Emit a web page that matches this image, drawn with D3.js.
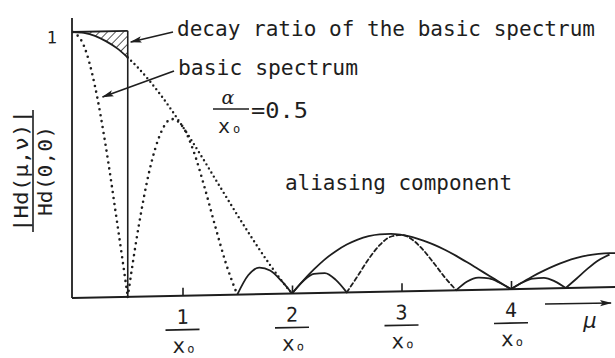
<!DOCTYPE html>
<html>
<head>
<meta charset="utf-8">
<script src="https://cdn.jsdelivr.net/npm/d3@7"></script>
<style>
  html, body { margin: 0; padding: 0; background: #fff; }
  svg { display: block; }
</style>
</head>
<body>
<script>
// Spatial frequency (in units of 1/x0)
const mu = [0.0, 0.1, 0.2, 0.3, 0.4, 0.5, 0.6, 0.7, 0.8, 0.9,
            1.0, 1.1, 1.2, 1.3, 1.4, 1.5, 1.6, 1.7, 1.8, 1.9,
            2.0, 2.1, 2.2, 2.3, 2.4, 2.5, 2.6, 2.7, 2.8, 2.9,
            3.0, 3.1, 3.2, 3.3, 3.4, 3.5, 3.6, 3.7, 3.8, 3.9,
            4.0, 4.1, 4.2, 4.3, 4.4, 4.5, 4.6, 4.7, 4.8, 4.9, 5.0];

// |Hd(mu,nu)| / Hd(0,0) of the aperture response (envelope)
const envelope = [1.000, 0.996, 0.984, 0.963, 0.936, 0.900, 0.858, 0.810, 0.757, 0.699,
                  0.637, 0.572, 0.505, 0.436, 0.368, 0.300, 0.234, 0.170, 0.109, 0.052,
                  0.000, 0.047, 0.089, 0.126, 0.156, 0.180, 0.198, 0.210, 0.216, 0.217,
                  0.212, 0.203, 0.189, 0.172, 0.152, 0.129, 0.104, 0.078, 0.052, 0.026,
                  0.000, 0.024, 0.047, 0.067, 0.085, 0.100, 0.112, 0.121, 0.126, 0.128, 0.127];

// Response including the aliasing component
const aliased = [1.000, 0.947, 0.796, 0.566, 0.289, 0.000, 0.265, 0.476, 0.612, 0.665,
                 0.637, 0.544, 0.408, 0.257, 0.114, 0.000, 0.072, 0.100, 0.088, 0.050,
                 0.000, 0.045, 0.072, 0.074, 0.048, 0.000, 0.061, 0.124, 0.175, 0.206,
                 0.212, 0.193, 0.153, 0.101, 0.047, 0.000, 0.032, 0.046, 0.042, 0.024,
                 0.000, 0.023, 0.038, 0.040, 0.026, 0.000, 0.035, 0.071, 0.102, 0.122, 0.127];

// Line style of each stretch of the two curves: [from, to, style]
const envelopeStyles = [[0, 0.5, "solid"], [0.5, 2, "dot"], [2, 4, "solid"], [4, 5, "solid"]];
const aliasedStyles  = [[0, 0.5, "dotBig"], [0.5, 1.5, "dotBig"], [1.5, 2, "solid"], [2, 2.5, "solid"],
                        [2.5, 3.5, "dash"], [3.5, 4, "solid"], [4, 4.5, "solid"], [4.5, 4.9, "solid"]];

const xTicks = [1, 2, 3, 4];
const xTickNumerators = ["1", "2", "3", "4"];
const yTicks = [1];
const yTickLabels = ["1"];
const nyquist = 0.5;

const W = 615, H = 358;
const ink = "#1e1e1e";
const mono = "'DejaVu Sans Mono', 'Liberation Mono', monospace";

const svg = d3.select("body").append("svg")
  .attr("width", W).attr("height", H)
  .attr("viewBox", `0 0 ${W} ${H}`);

const x = d3.scaleLinear().domain([0, 5]).range([73, 620.5]);
const y = d3.scaleLinear().domain([0, 1]).range([298, 32]);

// plot area is drawn with a slight tilt of the frequency axis
const ox = 72;
const plot = svg.append("g")
  .attr("transform", `translate(${ox},0) skewY(-1.16) translate(${-ox},0)`);

const defs = svg.append("defs");
defs.append("pattern")
  .attr("id", "hatch")
  .attr("patternUnits", "userSpaceOnUse")
  .attr("width", 5.8).attr("height", 5.8)
  .attr("patternTransform", "rotate(45)")
  .append("line")
  .attr("x1", 0).attr("y1", 0).attr("x2", 0).attr("y2", 5.8)
  .attr("stroke", ink).attr("stroke-width", 1.5);

defs.append("marker")
  .attr("id", "head")
  .attr("viewBox", "0 0 12 8")
  .attr("refX", 11).attr("refY", 4)
  .attr("markerWidth", 12).attr("markerHeight", 8)
  .attr("markerUnits", "userSpaceOnUse")
  .attr("orient", "auto")
  .append("path")
  .attr("d", "M0,0.8 L12,4 L0,7.2 L2.5,4 Z")
  .attr("fill", ink);

const pts = (vals) => mu.map((m, i) => ({ m, v: vals[i] }));
const envPts = pts(envelope);
const aliPts = pts(aliased);

// hatched loss region between the ideal level 1 and the envelope up to nyquist
const area = d3.area()
  .x(d => x(d.m))
  .y0(y(1))
  .y1(d => y(d.v))
  .curve(d3.curveMonotoneX);
plot.append("path")
  .datum(envPts.filter(d => d.m <= nyquist + 1e-9))
  .attr("d", area)
  .attr("fill", "url(#hatch)")
  .attr("stroke", "none");

// axes
const xAxis = d3.axisBottom(x)
  .tickValues(xTicks)
  .tickSize(-8)
  .tickSizeOuter(0)
  .tickFormat("");
const gx = plot.append("g")
  .attr("transform", `translate(0,${y(0)})`)
  .call(xAxis);
gx.select(".domain").attr("stroke", ink).attr("stroke-width", 2)
  .attr("d", `M${ox},0H${W + 10}`);
gx.selectAll(".tick line").attr("stroke", ink).attr("stroke-width", 1.6);

const yAxis = d3.axisLeft(y)
  .tickValues(yTicks)
  .tickSize(0)
  .tickPadding(15)
  .tickFormat((d, i) => yTickLabels[i]);
const gy = plot.append("g")
  .attr("transform", `translate(${ox},0)`)
  .call(yAxis);
gy.select(".domain").attr("stroke", ink).attr("stroke-width", 1.8)
  .attr("d", `M0,${y(0)}V18`);
gy.selectAll(".tick text")
  .attr("font-family", mono).attr("font-size", 17).attr("fill", ink)
  .attr("dy", "0.62em");

// box at level 1 and the nyquist line
plot.append("line")
  .attr("x1", ox).attr("x2", x(nyquist))
  .attr("y1", y(1)).attr("y2", y(1))
  .attr("stroke", ink).attr("stroke-width", 1.8);
plot.append("line")
  .attr("x1", x(nyquist)).attr("x2", x(nyquist))
  .attr("y1", y(1)).attr("y2", y(0))
  .attr("stroke", ink).attr("stroke-width", 1.6);

// curves
const line = d3.line().x(d => x(d.m)).y(d => y(d.v)).curve(d3.curveMonotoneX);
const styles = {
  solid:  { w: 1.8, dash: null },
  dot:    { w: 2.4, dash: "0,4.8" },
  dotBig: { w: 2.6, dash: "0,6" },
  dash:   { w: 1.8, dash: "4,3" }
};
function drawCurve(points, segs) {
  segs.forEach(([a, b, s]) => {
    const st = styles[s];
    plot.append("path")
      .datum(points.filter(d => d.m >= a - 1e-9 && d.m <= b + 1e-9))
      .attr("d", line)
      .attr("fill", "none")
      .attr("stroke", ink)
      .attr("stroke-width", st.w)
      .attr("stroke-linecap", st.dash ? "round" : "butt")
      .attr("stroke-linejoin", "round")
      .attr("stroke-dasharray", st.dash);
  });
}
drawCurve(envPts, envelopeStyles);
drawCurve(aliPts, aliasedStyles);

// fractional tick labels k / x0
xTicks.forEach((t, i) => {
  const cx = x(t);
  plot.append("text")
    .attr("x", cx).attr("y", 326)
    .attr("text-anchor", "middle")
    .attr("font-family", mono).attr("font-size", 20).attr("fill", ink)
    .text(xTickNumerators[i]);
  plot.append("line")
    .attr("x1", cx - 17).attr("x2", cx + 17)
    .attr("y1", 332).attr("y2", 332)
    .attr("stroke", ink).attr("stroke-width", 1.6);
  const den = plot.append("text")
    .attr("x", cx + 1).attr("y", 355)
    .attr("text-anchor", "middle")
    .attr("font-family", mono).attr("font-size", 21).attr("fill", ink);
  den.append("tspan").text("x");
  den.append("tspan").attr("font-size", 12).attr("dx", 2).text("o");
});

// frequency axis arrow and symbol
svg.append("line")
  .attr("x1", 545).attr("y1", 304).attr("x2", 611).attr("y2", 303)
  .attr("stroke", ink).attr("stroke-width", 1.7)
  .attr("marker-end", "url(#head)");
svg.append("text")
  .attr("x", 590).attr("y", 328)
  .attr("text-anchor", "middle")
  .attr("font-family", "'DejaVu Sans', sans-serif")
  .attr("font-style", "italic")
  .attr("font-size", 21).attr("fill", ink)
  .text("μ");

// vertical axis title as a fraction
const yl = svg.append("g").attr("transform", "translate(0,171) rotate(-90)");
yl.append("text")
  .attr("x", 0).attr("y", 28)
  .attr("text-anchor", "middle")
  .attr("font-family", mono).attr("font-size", 20).attr("fill", ink)
  .attr("textLength", 122).attr("lengthAdjust", "spacingAndGlyphs")
  .text("|Hd(μ,ν)|");
yl.append("line")
  .attr("x1", -61).attr("x2", 61).attr("y1", 33).attr("y2", 33)
  .attr("stroke", ink).attr("stroke-width", 1.6);
yl.append("text")
  .attr("x", 0).attr("y", 52)
  .attr("text-anchor", "middle")
  .attr("font-family", mono).attr("font-size", 20).attr("fill", ink)
  .attr("textLength", 90).attr("lengthAdjust", "spacingAndGlyphs")
  .text("Hd(0,0)");

// annotations
function label(txt, lx, ly, len, size) {
  svg.append("text")
    .attr("x", lx).attr("y", ly)
    .attr("font-family", mono).attr("font-size", size).attr("fill", ink)
    .attr("textLength", len).attr("lengthAdjust", "spacingAndGlyphs")
    .text(txt);
}
function arrow(x1, y1, x2, y2) {
  svg.append("line")
    .attr("x1", x1).attr("y1", y1).attr("x2", x2).attr("y2", y2)
    .attr("stroke", ink).attr("stroke-width", 1.7)
    .attr("marker-end", "url(#head)");
}
label("decay ratio of the basic spectrum", 177, 36, 418, 22);
arrow(173, 32, x(nyquist) + 3, 42);
label("basic spectrum", 178, 75, 180, 22);
arrow(174, 71, x(0.27), 97);
label("aliasing component", 285, 190, 227, 22);

// alpha / x0 = 0.5
svg.append("text")
  .attr("x", 228).attr("y", 104)
  .attr("text-anchor", "middle")
  .attr("font-family", "'DejaVu Serif', serif").attr("font-style", "italic")
  .attr("font-size", 19).attr("fill", ink)
  .text("α");
svg.append("line")
  .attr("x1", 213).attr("x2", 249).attr("y1", 109).attr("y2", 109)
  .attr("stroke", ink).attr("stroke-width", 1.6);
const ax = svg.append("text")
  .attr("x", 218).attr("y", 133)
  .attr("font-family", mono).attr("font-size", 20).attr("fill", ink);
ax.append("tspan").text("x");
ax.append("tspan").attr("font-size", 12).attr("dx", 3).text("o");
label("=0.5", 251, 118, 57, 21);
</script>
</body>
</html>
